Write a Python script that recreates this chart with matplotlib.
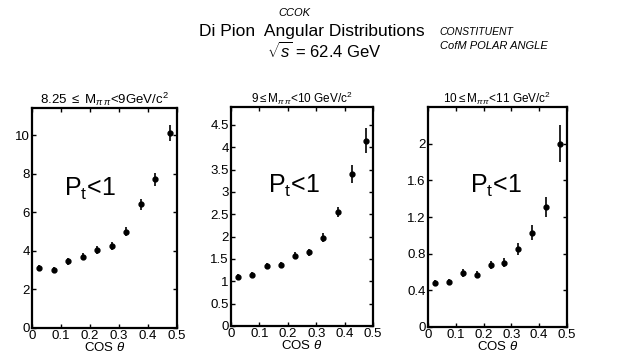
import matplotlib
matplotlib.use("Agg")
import matplotlib.pyplot as plt

plt.rcParams['font.family'] = ['Liberation Sans', 'DejaVu Sans']
plt.rcParams['mathtext.fontset'] = 'custom'
plt.rcParams['mathtext.rm'] = 'Liberation Sans'
plt.rcParams['mathtext.it'] = 'Liberation Sans:italic'

# data
cos_theta = [0.025, 0.075, 0.125, 0.175, 0.225, 0.275, 0.325, 0.375, 0.425, 0.475]

y1 = [3.1, 3.0, 3.45, 3.7, 4.05, 4.25, 5.0, 6.4, 7.7, 10.1]
e1 = [0.15, 0.15, 0.18, 0.2, 0.2, 0.22, 0.22, 0.3, 0.32, 0.42]

y2 = [1.1, 1.15, 1.35, 1.37, 1.57, 1.65, 1.97, 2.55, 3.4, 4.15]
e2 = [0.06, 0.06, 0.07, 0.07, 0.08, 0.08, 0.1, 0.12, 0.2, 0.28]

y3 = [0.48, 0.49, 0.59, 0.57, 0.68, 0.70, 0.85, 1.03, 1.31, 2.0]
e3 = [0.03, 0.035, 0.04, 0.04, 0.045, 0.05, 0.065, 0.08, 0.11, 0.2]

titles = [r"8.25 $\leq$ M$_{\pi\,\pi}$<9GeV/c$^{2}$",
          r"9$\leq$M$_{\pi\,\pi}$<10 GeV/c$^{2}$",
          r"10$\leq$M$_{\pi\,\pi}$<11 GeV/c$^{2}$"]
yticks = [[0, 2, 4, 6, 8, 10],
          [0, 0.5, 1, 1.5, 2, 2.5, 3, 3.5, 4, 4.5],
          [0, 0.4, 0.8, 1.2, 1.6, 2]]
ytlabels = [["0", "2", "4", "6", "8", "10"],
            ["0", "0.5", "1", "1.5", "2", "2.5", "3", "3.5", "4", "4.5"],
            ["0", "0.4", "0.8", "1.2", "1.6", "2"]]
ymax = [11.4, 4.9, 2.4]
xticks = [0, 0.1, 0.2, 0.3, 0.4, 0.5]
xtlabels = ["0", "0.1", "0.2", "0.3", "0.4", "0.5"]

fig = plt.figure(figsize=(6.23, 3.58), dpi=100)
rects = [[0.0514, 0.0838, 0.2327, 0.6145],
         [0.3708, 0.0894, 0.2280, 0.6117],
         [0.6870, 0.0866, 0.2230, 0.6145]]
ptpos = [(0.22, 0.60), (0.26, 0.61), (0.30, 0.61)]
tsize = [9.5, 8.5, 8.5]

for i, (ys, es) in enumerate([(y1, e1), (y2, e2), (y3, e3)]):
    ax = fig.add_axes(rects[i])
    ax.errorbar(cos_theta, ys, yerr=es, fmt='o', color='black', ms=3.5,
                elinewidth=1.2, capsize=0)
    ax.set_xlim(0, 0.5)
    ax.set_ylim(0, ymax[i])
    ax.set_xticks(xticks)
    ax.set_xticklabels(xtlabels)
    ax.set_yticks(yticks[i])
    ax.set_yticklabels(ytlabels[i])
    ax.tick_params(direction='in', top=True, right=True, length=3, width=1,
                   labelsize=9.5, pad=1.5)
    for s in ax.spines.values():
        s.set_linewidth(1.6)
    ax.set_title(titles[i], fontsize=tsize[i], pad=3)
    ax.set_xlabel(r"COS $\theta$", fontsize=9.5, labelpad=-1)
    ax.text(ptpos[i][0], ptpos[i][1], r"P$_{\mathrm{t}}$<1", transform=ax.transAxes,
            fontsize=18, va='baseline')

fig.text(0.50, 0.912, "Di Pion  Angular Distributions", ha='center', va='center',
         fontsize=12.5)
fig.text(0.52, 0.858, r"$\sqrt{s}$ = 62.4 GeV", ha='center', va='center',
         fontsize=12)
fig.text(0.473, 0.963, "CCOK", ha='center', va='center', fontsize=8,
         style='italic')
fig.text(0.706, 0.912, "CONSTITUENT", ha='left', va='center', fontsize=7.5,
         style='italic')
fig.text(0.706, 0.872, "CofM POLAR ANGLE", ha='left', va='center', fontsize=8,
         style='italic')

fig.savefig("out.png", dpi=100)
